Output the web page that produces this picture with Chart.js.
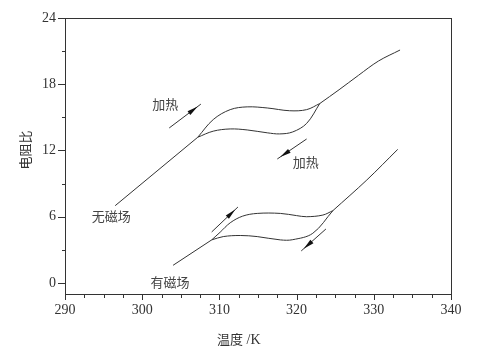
<!DOCTYPE html>
<html><head><meta charset="utf-8">
<script src="https://cdn.jsdelivr.net/npm/chart.js@4"></script>
<style>html,body{margin:0;padding:0;background:#fff}#c{display:block}</style>
</head><body>
<canvas id="c" width="489" height="352"></canvas>
<script>
// ---- data (temperature K, resistance ratio) ----
const xTickLabels = [290, 300, 310, 320, 330, 340];
const yTickLabels = [0, 6, 12, 18, 24];
const noFieldCommonLow = [[296.5, 7.0], [307.2, 13.2]];
const noFieldHeating = [[307.2, 13.2], [309.2, 14.8], [311.4, 15.7], [313.6, 15.95], [316.2, 15.85], [319.1, 15.6], [321.3, 15.7], [323.0, 16.25]];
const noFieldCooling = [[307.2, 13.2], [309.2, 13.75], [311.4, 13.95], [313.6, 13.86], [316.2, 13.6], [317.8, 13.5], [319.5, 13.68], [321.3, 14.45], [323.0, 16.25]];
const noFieldCommonHigh = [[323.0, 16.25], [325.5, 17.5], [328.0, 18.8], [330.6, 20.1], [333.4, 21.1]];
const fieldCommonLow = [[304.0, 1.6], [309.0, 3.9]];
const fieldHeating = [[309.0, 3.9], [310.1, 4.6], [311.4, 5.45], [313.0, 6.05], [314.9, 6.3], [317.9, 6.3], [320.0, 6.1], [321.3, 6.0], [323.4, 6.15], [324.7, 6.55]];
const fieldCooling = [[309.0, 3.9], [310.5, 4.2], [312.7, 4.3], [314.9, 4.2], [317.9, 3.9], [319.5, 3.92], [322.1, 4.5], [324.7, 6.55]];
const fieldCommonHigh = [[324.7, 6.55], [329.1, 9.33], [333.1, 12.1]];
// annotations in data coordinates
const arrows = [
  [[303.5, 14.04], [307.6, 16.2]],
  [[321.3, 13.04], [317.5, 11.23]],
  [[309.0, 4.62], [312.4, 6.88]],
  [[323.8, 4.89], [320.6, 2.9]]
];
const labels = [
  ['加热', 303.0, 16.2],
  ['加热', 321.2, 10.96],
  ['无磁场', 296.0, 6.07],
  ['有磁场', 303.6, 0.1]
];

const lineColor = '#333';
function ds(arr, smooth) {
  return {
    data: arr.map(p => ({x: p[0], y: p[1]})),
    showLine: true, borderColor: lineColor, borderWidth: 1, pointRadius: 0,
    tension: smooth ? 0.35 : 0, fill: false
  };
}

const decor = {
  id: 'decor',
  afterDraw(chart) {
    const c = chart.ctx, a = chart.chartArea, xs = chart.scales.x, ys = chart.scales.y;
    c.save();
    c.strokeStyle = '#333'; c.lineWidth = 1;
    c.strokeRect(a.left + 0.5, a.top + 0.5, a.right - a.left, a.bottom - a.top);
    for (let v = 290; v <= 340.001; v += 2.5) {
      const px = Math.round(xs.getPixelForValue(v)) + 0.5;
      const major = Math.abs(v % 10) < 1e-6;
      c.beginPath(); c.moveTo(px, a.bottom); c.lineTo(px, a.bottom + (major ? 6 : 4)); c.stroke();
    }
    for (let v = 0; v <= 24.001; v += 3) {
      const py = Math.round(ys.getPixelForValue(v)) + 0.5;
      const major = v % 6 === 0;
      c.beginPath(); c.moveTo(a.left, py); c.lineTo(a.left - (major ? 7 : 3), py); c.stroke();
    }
    c.fillStyle = '#111'; c.strokeStyle = '#333';
    arrows.forEach(([p0, p1]) => {
      const x0 = xs.getPixelForValue(p0[0]), y0 = ys.getPixelForValue(p0[1]);
      const x1 = xs.getPixelForValue(p1[0]), y1 = ys.getPixelForValue(p1[1]);
      c.beginPath(); c.moveTo(x0, y0); c.lineTo(x1, y1); c.stroke();
      const dx = x1 - x0, dy = y1 - y0, L = Math.hypot(dx, dy), ux = dx / L, uy = dy / L;
      const tx = x0 + dx * 0.9, ty = y0 + dy * 0.9;
      const bx = tx - ux * 11, by = ty - uy * 11;
      c.beginPath(); c.moveTo(tx, ty);
      c.lineTo(bx - uy * 2.3, by + ux * 2.3); c.lineTo(bx + uy * 2.3, by - ux * 2.3);
      c.closePath(); c.fill();
    });
    c.fillStyle = '#444'; c.font = '13px "Noto Sans CJK SC"';
    c.textAlign = 'center'; c.textBaseline = 'middle';
    labels.forEach(([t, x, y]) => c.fillText(t, xs.getPixelForValue(x), ys.getPixelForValue(y)));
    c.fillStyle = '#333';
    c.save(); c.translate(25, 150); c.rotate(-Math.PI / 2);
    c.font = '13px "Noto Sans CJK SC"'; c.fillText('电阻比', 0, 0); c.restore();
    c.textAlign = 'left';
    c.font = '13px "Noto Sans CJK SC"'; c.fillText('温度', 217, 339);
    const w = c.measureText('温度').width;
    c.font = '14px "Liberation Serif"'; c.fillText(' /K', 217 + w, 340);
    c.restore();
  }
};

new Chart(document.getElementById('c'), {
  type: 'scatter',
  data: { datasets: [
    ds(noFieldCommonLow, false), ds(noFieldHeating, true), ds(noFieldCooling, true), ds(noFieldCommonHigh, true),
    ds(fieldCommonLow, false), ds(fieldHeating, true), ds(fieldCooling, true), ds(fieldCommonHigh, true)
  ]},
  options: {
    responsive: false, animation: false, devicePixelRatio: 1,
    layout: { padding: { top: 18, right: 38, left: 0, bottom: 0 } },
    plugins: { legend: { display: false }, tooltip: { enabled: false } },
    scales: {
      x: {
        type: 'linear', min: 290, max: 340,
        afterBuildTicks: s => { s.ticks = xTickLabels.map(v => ({value: v})); },
        afterFit: s => { s.height = 58; },
        grid: { display: true, drawOnChartArea: false, drawTicks: false },
        border: { display: false },
        ticks: { padding: 8, color: '#333', font: { family: 'Liberation Serif', size: 14 }, maxRotation: 0 }
      },
      y: {
        type: 'linear', min: -1, max: 24,
        afterBuildTicks: s => { s.ticks = yTickLabels.map(v => ({value: v})); },
        afterFit: s => { s.width = 65; },
        grid: { display: true, drawOnChartArea: false, drawTicks: false },
        border: { display: false },
        ticks: { padding: 9, color: '#333', font: { family: 'Liberation Serif', size: 14 } }
      }
    }
  },
  plugins: [decor]
});
</script>
</body></html>
